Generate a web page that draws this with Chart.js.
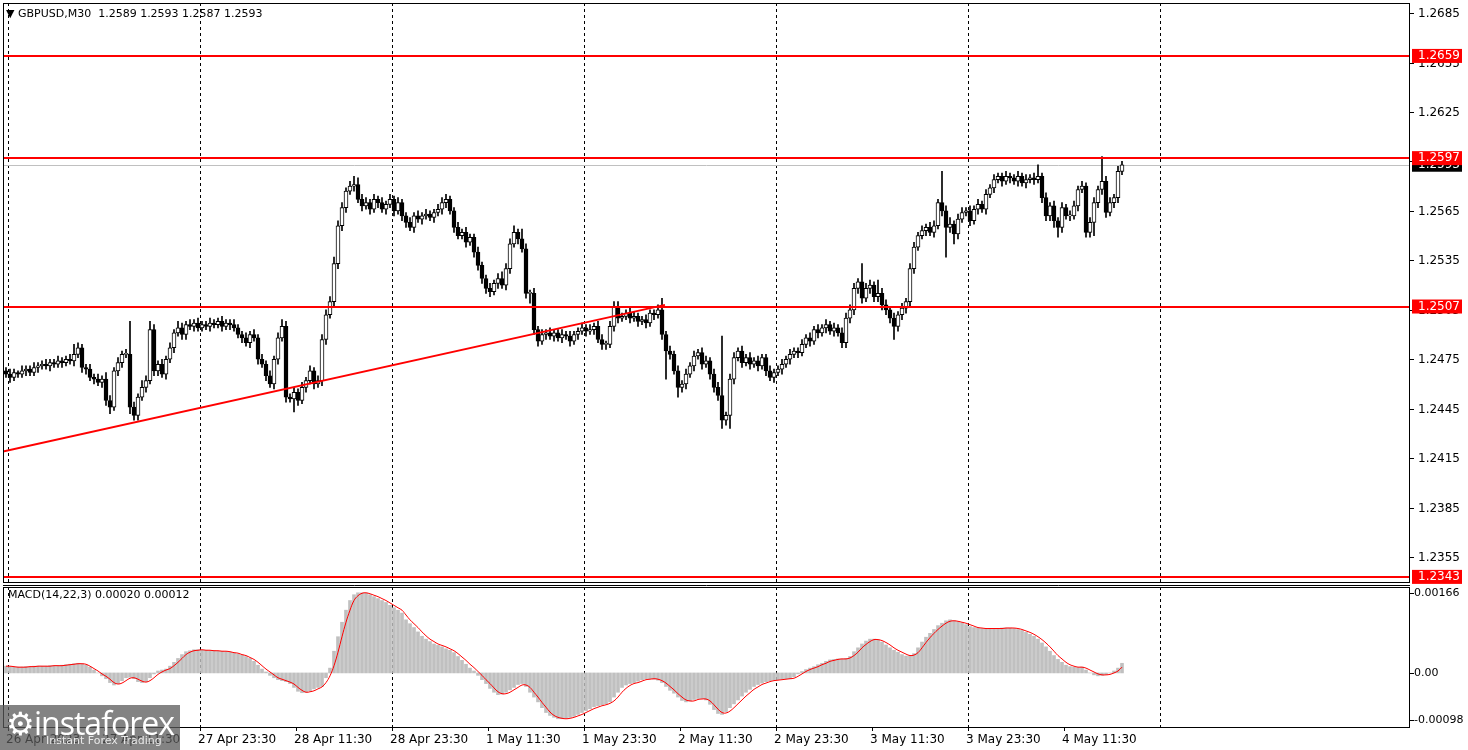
<!DOCTYPE html>
<html><head><meta charset="utf-8">
<script src="https://cdn.jsdelivr.net/npm/chart.js@4.4.0/dist/chart.umd.min.js"></script>
<style>
html,body{margin:0;padding:0;background:#fff;width:1468px;height:750px;overflow:hidden;font-family:"DejaVu Sans",sans-serif}
#w1{position:absolute;left:0;top:0;width:1468px;height:585px}
#w2{position:absolute;left:0;top:585px;width:1468px;height:165px}
#logo{position:absolute;left:0;top:705px;width:180px;height:45px;background:rgba(90,90,90,0.75);color:#fff}
#logo .a{position:absolute;left:6px;top:-4px;font:32px "Open Sans",sans-serif;letter-spacing:-1px}
#logo .b{position:absolute;left:46px;top:29px;font:11px "DejaVu Sans",sans-serif;color:#e8e8e8}
</style></head><body>
<div id="w1"><canvas id="c1"></canvas></div>
<div id="w2"><canvas id="c2"></canvas></div>
<div id="logo"><span class="a">⚙instaforex</span><span class="b">Instant Forex Trading</span></div>
<script>
const firstOpen = 1.2468;
const closes = [
1.2466,1.2464,1.2467,1.2466,1.2468,1.2469,1.2467,1.2470,1.2471,1.2472,
1.2471,1.2473,1.2472,1.2474,1.2473,1.2475,1.2474,1.2478,1.2482,1.2470,
1.2469,1.2464,1.2463,1.2461,1.2463,1.2450,1.2446,1.2468,1.2473,1.2478,
1.2478,1.2446,1.2441,1.2452,1.2458,1.2462,1.2493,1.2468,1.2472,1.2466,
1.2475,1.2482,1.2491,1.2494,1.2490,1.2496,1.2495,1.2497,1.2494,1.2496,
1.2495,1.2497,1.2496,1.2498,1.2495,1.2497,1.2496,1.2494,1.2490,1.2488,
1.2485,1.2490,1.2488,1.2475,1.2472,1.2465,1.2460,1.2475,1.2488,1.2495,
1.2452,1.2451,1.2455,1.2450,1.2458,1.2462,1.2468,1.2460,1.2462,1.2487,
1.2502,1.2510,1.2533,1.2556,1.2567,1.2577,1.2580,1.2581,1.2572,1.2568,
1.2570,1.2566,1.2572,1.2570,1.2566,1.2569,1.2572,1.2565,1.2570,1.2562,
1.2558,1.2555,1.2562,1.2560,1.2562,1.2563,1.2561,1.2564,1.2566,1.2570,
1.2572,1.2565,1.2555,1.2550,1.2552,1.2546,1.2549,1.2540,1.2532,1.2524,
1.2518,1.2516,1.2521,1.2524,1.2520,1.2530,1.2545,1.2552,1.2548,1.2542,
1.2515,1.2515,1.2493,1.2486,1.2490,1.2491,1.2489,1.2491,1.2488,1.2490,
1.2489,1.2486,1.2490,1.2492,1.2494,1.2492,1.2493,1.2495,1.2487,1.2484,
1.2484,1.2495,1.2507,1.2500,1.2501,1.2503,1.2500,1.2501,1.2498,1.2499,
1.2497,1.2503,1.2502,1.2505,1.2490,1.2480,1.2478,1.2468,1.2458,1.2460,
1.2466,1.2471,1.2477,1.2479,1.2472,1.2474,1.2466,1.2458,1.2453,1.2438,
1.2441,1.2463,1.2476,1.2480,1.2473,1.2476,1.2472,1.2474,1.2471,1.2476,
1.2468,1.2464,1.2467,1.2469,1.2472,1.2475,1.2478,1.2480,1.2479,1.2484,
1.2488,1.2486,1.2493,1.2491,1.2494,1.2496,1.2492,1.2494,1.2491,1.2485,
1.2500,1.2505,1.2518,1.2522,1.2512,1.2518,1.2520,1.2513,1.2515,1.2508,
1.2505,1.2500,1.2495,1.2502,1.2506,1.2510,1.2530,1.2543,1.2550,1.2553,
1.2555,1.2552,1.2556,1.2570,1.2565,1.2555,1.2557,1.2551,1.2560,1.2564,
1.2565,1.2559,1.2566,1.2569,1.2566,1.2575,1.2579,1.2584,1.2586,1.2583,
1.2586,1.2585,1.2583,1.2586,1.2582,1.2584,1.2585,1.2584,1.2586,1.2573,
1.2562,1.2568,1.2559,1.2555,1.2567,1.2562,1.2562,1.2568,1.2578,1.2580,
1.2552,1.2558,1.2570,1.2578,1.2583,1.2564,1.2570,1.2573,1.2589,1.2593];
const upWickPips = [
2,3,2,1,3,2,2,3,2,2, 3,2,2,3,2,2,3,6,3,2, 2,3,2,3,2,4,3,2,3,2, 3,20,3,2,4,3,5,3,2,3,
2,3,2,4,3,2,3,2,3,2, 2,3,2,2,3,2,2,3,2,2, 3,2,3,2,3,2,3,2,3,4, 3,2,3,2,3,2,3,2,3,3,
3,3,4,3,3,2,3,5,4,3, 3,2,3,2,3,2,3,2,3,2, 2,3,2,3,2,3,2,2,3,3, 3,2,2,3,2,3,2,2,3,2,
2,3,2,3,4,3,3,4,2,6, 3,2,3,2,3,2,3,2,2,3, 2,3,2,2,3,2,3,2,3,3, 2,3,3,3,2,2,3,3,2,2,
3,2,2,3,7,2,3,2,3,2, 3,2,3,2,3,3,2,3,3,36, 2,3,3,2,3,2,3,2,3,2, 2,3,2,2,3,2,3,2,2,3,
2,3,2,3,2,3,2,3,2,3, 3,3,3,2,11,3,3,2,8,3, 3,2,3,2,3,2,3,3,2,3, 2,3,3,2,19,3,4,2,3,3,
2,3,2,3,2,3,2,3,2,2, 3,2,2,3,2,3,2,3,7,2, 3,2,3,2,3,2,3,3,2,3, 2,3,3,2,15,3,3,2,3,2];
const downWickPips = [
2,3,2,2,2,3,2,2,3,2, 2,3,2,2,3,2,2,3,2,3, 3,2,3,2,3,3,4,2,3,3, 2,4,3,3,2,3,2,3,3,2,
3,2,3,2,3,3,2,3,2,2, 2,3,2,2,3,2,3,2,2,3, 2,3,2,3,2,3,2,3,3,2, 3,2,8,3,2,3,2,3,2,3,
3,2,3,3,3,3,2,3,2,3, 2,3,2,3,2,3,2,3,2,3, 3,2,3,2,3,2,2,3,2,3, 3,2,3,2,2,3,2,3,3,3,
3,3,2,3,2,3,3,2,3,2, 3,6,3,3,2,3,2,3,2,3, 2,3,2,3,2,3,2,3,2,3, 3,2,3,3,2,2,3,2,3,2,
3,2,3,2,3,17,3,2,6,3, 3,2,3,2,3,2,3,3,3,5, 3,8,3,2,3,2,3,2,3,2, 3,2,3,2,3,2,3,2,3,2,
2,3,2,3,2,3,2,3,2,3, 3,3,3,3,3,2,3,3,3,3, 3,3,8,3,3,3,3,3,2,2, 3,2,3,2,3,18,3,6,3,2,
2,3,2,3,2,3,2,3,2,3, 2,3,2,3,2,3,2,3,2,3, 3,3,4,6,3,2,3,2,3,2, 3,3,8,3,3,3,2,3,3,2];
const macdHist = [ // units of 0.00001
14,13,12,12,12,13,13,14,14,14, 14,15,15,15,16,17,18,19,20,19, 16,12,6,0,-6,-12,-20,-25,-22,-16,
-10,-9,-12,-18,-20,-18,-10,-2,4,6, 8,14,22,30,38,44,46,48,48,47, 47,46,46,45,45,44,43,41,39,37,
34,30,24,16,8,2,-5,-10,-14,-16, -18,-22,-30,-38,-41,-40,-37,-33,-30,-28, -10,10,45,75,105,130,150,162,166,166,
165,162,158,154,150,146,140,135,130,124, 110,102,94,85,76,70,65,60,57,54, 50,47,42,34,26,18,10,4,-5,-14,
-22,-32,-40,-45,-44,-40,-35,-30,-24,-22, -28,-40,-50,-60,-72,-82,-88,-92,-95,-95, -94,-92,-90,-86,-82,-78,-74,-70,-68,-66,
-64,-60,-50,-40,-30,-25,-22,-20,-17,-14, -12,-12,-13,-15,-20,-28,-36,-42,-50,-57, -60,-58,-55,-53,-53,-56,-65,-76,-84,-86,
-80,-72,-64,-56,-48,-40,-34,-28,-24,-21, -18,-16,-15,-14,-13,-12,-12,-8,-2,3, 7,10,13,17,20,24,27,28,29,29,
30,34,44,52,60,66,70,70,68,64, 58,52,47,43,38,35,35,40,52,64, 74,82,90,98,103,108,110,108,106,104,
100,96,94,93,92,92,92,92,92,93, 93,93,92,90,88,84,80,76,70,62, 54,45,36,28,22,16,13,12,11,12,
6,0,-4,-6,-5,-3,0,4,10,20];
const macdSignal = [
14,14,13,12,12,12,13,13,14,14, 14,14,15,15,15,16,17,18,19,19, 18,14,9,4,-2,-7,-13,-20,-23,-21,
-16,-11,-10,-13,-17,-19,-16,-10,-3,2, 6,9,15,22,30,38,43,46,47,48, 47,47,46,46,45,45,44,42,41,38,
36,32,28,22,15,8,2,-4,-10,-13, -16,-19,-23,-30,-36,-40,-39,-37,-33,-29, -20,-6,15,43,75,105,130,150,160,165,
166,164,161,158,154,150,145,140,135,130, 120,110,102,94,85,77,70,65,60,57, 54,50,46,40,33,26,18,11,3,-5,
-14,-22,-31,-39,-43,-43,-40,-35,-30,-25, -25,-30,-40,-50,-61,-71,-81,-88,-92,-94, -95,-94,-92,-89,-86,-82,-78,-74,-71,-68,
-66,-63,-58,-50,-40,-32,-26,-22,-20,-17, -14,-13,-12,-13,-16,-21,-28,-35,-43,-50, -56,-58,-58,-55,-54,-54,-58,-66,-75,-82,
-83,-79,-72,-64,-56,-48,-41,-34,-29,-24, -21,-18,-16,-15,-14,-13,-12,-11,-7,-2, 3,7,10,13,17,20,24,26,28,29,
29,31,36,43,52,59,65,69,69,67, 63,58,52,47,43,39,36,37,42,52, 63,73,82,90,97,103,107,108,107,105,
103,100,97,94,93,92,92,92,92,92, 93,93,93,92,90,87,84,80,75,69, 62,54,45,36,29,22,17,14,12,12,
10,6,2,-2,-4,-4,-3,0,4,12];
const priceTicks = [1.2685,1.2655,1.2625,1.2595,1.2565,1.2535,1.2505,1.2475,1.2445,1.2415,1.2385,1.2355];
const levels = [1.2659,1.2597,1.2507,1.2343];
const currentPrice = 1.2593;
const trendLine = [{x:-0.75,y:1.2419},{x:164.75,y:1.2508}];
const timeLabels = ["26 Apr 2023","27 Apr 11:30","27 Apr 23:30","28 Apr 11:30","28 Apr 23:30","1 May 11:30","1 May 23:30","2 May 11:30","2 May 23:30","3 May 11:30","3 May 23:30","4 May 11:30"];
const macdTicks = [0.00166,0,-0.00098];

const opens = closes.map((c,i)=> i===0 ? firstOpen : closes[i-1]);
const bodies = closes.map((c,i)=>({x:i,y:[opens[i],c]}));
const wicks = closes.map((c,i)=>({x:i,y:[Math.min(opens[i],c)-downWickPips[i]/10000, Math.max(opens[i],c)+upWickPips[i]/10000]}));
const FONT = '12px "DejaVu Sans"';
const XMIN=-0.75, XMAX=351;
const xScale = {type:'linear',min:XMIN,max:XMAX,display:false,offset:false,grid:{offset:false}};

function vgrid(chart){
  const {ctx,chartArea:a,scales:{x}}=chart;
  ctx.save();ctx.strokeStyle='#000';ctx.lineWidth=1;ctx.setLineDash([3,3]);
  for(let k=0;k<7;k++){const px=Math.round(x.getPixelForValue(0.5+48*k))+0.5;
    ctx.beginPath();ctx.moveTo(px,a.top);ctx.lineTo(px,a.bottom);ctx.stroke();}
  ctx.restore();
}
const mainPlugin={id:'m',
 beforeDatasetsDraw(chart){
  const {ctx,chartArea:a,scales:{y}}=chart;
  vgrid(chart);
  ctx.save();
  let py=Math.round(y.getPixelForValue(currentPrice))+0.5;
  ctx.strokeStyle='#c0c0c0';ctx.lineWidth=1;ctx.beginPath();ctx.moveTo(a.left,py);ctx.lineTo(a.right,py);ctx.stroke();
  ctx.restore();
 },
 afterDatasetsDraw(chart){
  const {ctx,chartArea:a,scales:{y}}=chart;
  ctx.save();
  ctx.strokeStyle='#ff0000';ctx.lineWidth=2;
  levels.forEach(v=>{const py=Math.round(y.getPixelForValue(v));ctx.beginPath();ctx.moveTo(a.left,py);ctx.lineTo(a.right,py);ctx.stroke();});
  ctx.strokeStyle='#000';ctx.lineWidth=1;ctx.strokeRect(a.left+0.5,a.top+0.5,a.right-a.left-1,a.bottom-a.top);
  ctx.font=FONT;ctx.fillStyle='#000';ctx.textBaseline='middle';ctx.textAlign='left';
  priceTicks.forEach(v=>{const py=Math.round(y.getPixelForValue(v))+0.5;
    ctx.beginPath();ctx.moveTo(a.right,py);ctx.lineTo(a.right+4,py);ctx.stroke();
    ctx.fillText(v.toFixed(4),a.right+8,py);});
  let py=y.getPixelForValue(currentPrice);
  ctx.fillStyle='#000';ctx.fillRect(a.right+2,py-6,50,13);
  ctx.fillStyle='#fff';ctx.fillText(currentPrice.toFixed(4),a.right+8,py);
  levels.forEach(v=>{const p=y.getPixelForValue(v);
    ctx.fillStyle='#ff0000';ctx.fillRect(a.right+2,p-7,50,14);
    ctx.fillStyle='#fff';ctx.fillText(v.toFixed(4),a.right+8,p);});
  ctx.fillStyle='#000';ctx.font='11px "DejaVu Sans"';ctx.textBaseline='alphabetic';
  ctx.fillText('▼ GBPUSD,M30  1.2589 1.2593 1.2587 1.2593',a.left+3,17);
  ctx.restore();
 }};
new Chart(document.getElementById('c1'),{
 data:{datasets:[
  {type:'bar',data:wicks,backgroundColor:'#000',barThickness:1,grouped:false,order:2},
  {type:'bar',data:bodies,backgroundColor:closes.map((c,i)=>c>=opens[i]?'#fff':'#000'),borderColor:'#000',borderWidth:1,borderSkipped:false,barThickness:4,minBarLength:1,grouped:false,order:1},
  {type:'line',data:trendLine,borderColor:'#ff0000',borderWidth:2,pointRadius:0,order:0}
 ]},
 options:{responsive:true,maintainAspectRatio:false,animation:false,
  layout:{padding:{left:3,right:58,top:3,bottom:3}},
  plugins:{legend:{display:false},tooltip:{enabled:false}},
  scales:{x:xScale, y:{min:1.23399,max:1.26911,display:false}}},
 plugins:[mainPlugin]});

const hist = macdHist.map((v,i)=>({x:i,y:v/100000}));
const sig = macdSignal.map((v,i)=>({x:i,y:v/100000}));
const macdPlugin={id:'mc',
 beforeDatasetsDraw(chart){vgrid(chart);},
 afterDatasetsDraw(chart){
  const {ctx,chartArea:a,scales:{x,y}}=chart;
  ctx.save();
  ctx.strokeStyle='#000';ctx.lineWidth=1;
  ctx.beginPath();ctx.moveTo(a.left,0.5);ctx.lineTo(a.right,0.5);ctx.stroke();
  ctx.strokeRect(a.left+0.5,a.top+0.5,a.right-a.left-1,a.bottom-a.top);
  ctx.font='11px "DejaVu Sans"';ctx.fillStyle='#000';ctx.textBaseline='middle';
  macdTicks.forEach(v=>{const py=Math.round(y.getPixelForValue(v))+0.5;
    ctx.beginPath();ctx.moveTo(a.right,py);ctx.lineTo(a.right+4,py);ctx.stroke();
    const t = v===0?'0.00':v.toFixed(5);
    ctx.fillText(t,a.right+4,py);});
  ctx.fillText('MACD(14,22,3) 0.00020 0.00012',a.left+5,a.top+8);
  ctx.font=FONT;ctx.textBaseline='alphabetic';
  timeLabels.forEach((t,k)=>{const px=Math.round(x.getPixelForValue(0.5+24*k));
    ctx.beginPath();ctx.moveTo(px+0.5,a.bottom);ctx.lineTo(px+0.5,a.bottom+4);ctx.stroke();
    ctx.fillText(t,px-2,a.bottom+16);});
  ctx.restore();
 }};
new Chart(document.getElementById('c2'),{
 data:{datasets:[
  {type:'bar',data:hist,backgroundColor:'#c0c0c0',barThickness:3,order:1},
  {type:'line',data:sig,borderColor:'#ff0000',borderWidth:1,pointRadius:0,tension:0.4,order:0}
 ]},
 options:{responsive:true,maintainAspectRatio:false,animation:false,
  layout:{padding:{left:3,right:58,top:2,bottom:23}},
  plugins:{legend:{display:false},tooltip:{enabled:false}},
  scales:{x:xScale, y:{min:-0.00112,max:0.00178,display:false}}},
 plugins:[macdPlugin]});
</script>
</body></html>
